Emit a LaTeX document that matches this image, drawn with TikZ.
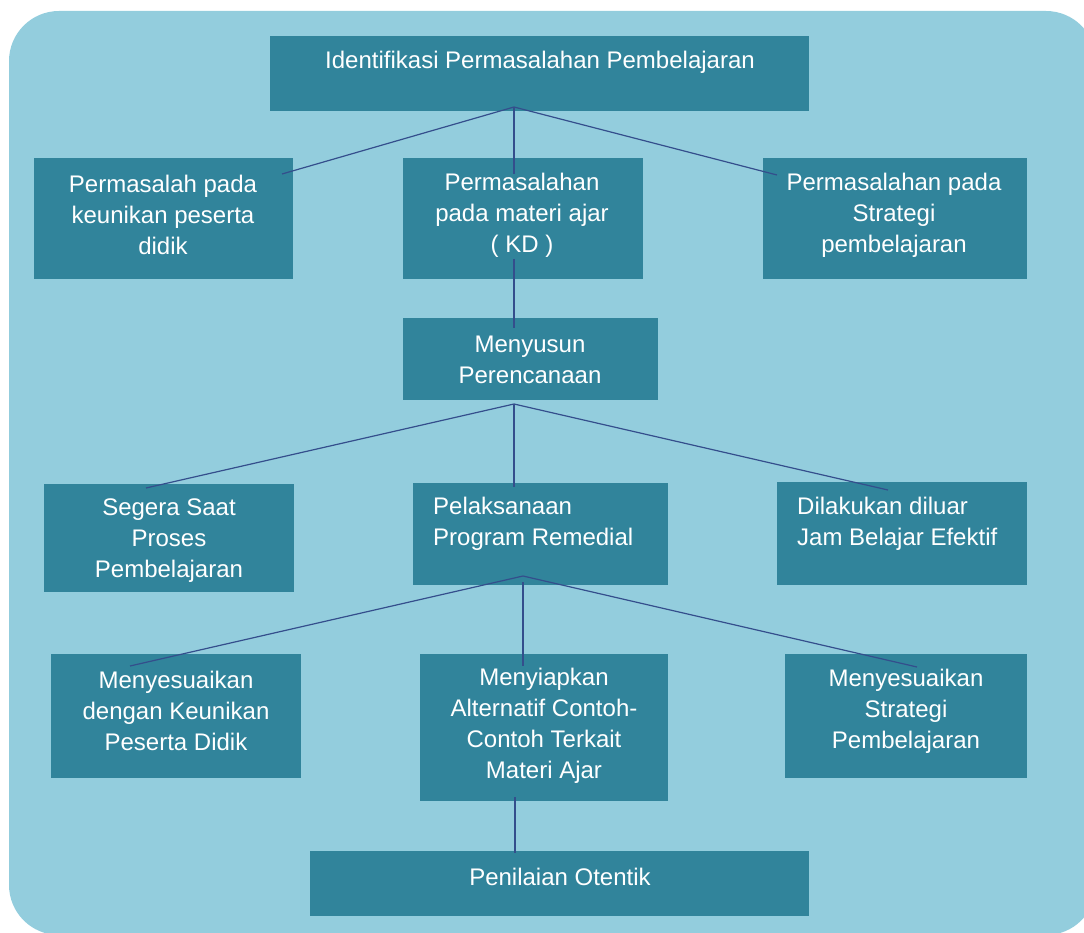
\documentclass[tikz,border=0pt]{standalone}
\usepackage{fontspec}
\setmainfont{Liberation Sans}
\usetikzlibrary{positioning}
\usetikzlibrary{calc}

\definecolor{bgblue}{RGB}{147,205,221}
\definecolor{boxteal}{RGB}{49,132,155}
\definecolor{linkblue}{RGB}{52,78,140}

\tikzset{
	box/.style={fill=boxteal, draw=none, inner sep=0pt, anchor=north west},
	txt/.style={text=white, font=\fontsize{24}{31}\selectfont, align=center, inner sep=0pt},
	link/.style={draw=linkblue, line width=1.2pt}
}

\begin{document}
\begin{tikzpicture}[x=1pt, y=-1pt]

	\useasboundingbox (0,0) rectangle (1084,933);
	\begin{scope}
		\clip (0,0) rectangle (1084,933);
		\fill[bgblue, rounded corners=50pt] (9,11) rectangle (1096,935);
	\end{scope}

	\node[box, minimum width=539pt, minimum height=75pt] (idn) at (270,36) {};
	\node[box, minimum width=259pt, minimum height=121pt] (msiswa) at (34,158) {};
	\node[box, minimum width=240pt, minimum height=121pt] (mkd) at (403,158) {};
	\node[box, minimum width=264pt, minimum height=121pt] (mstrategi) at (763,158) {};
	\node[box, minimum width=255pt, minimum height=82pt] (rencana) at (403,318) {};
	\node[box, minimum width=250pt, minimum height=108pt] (segera) at (44,484) {};
	\node[box, minimum width=255pt, minimum height=102pt] (remedial) at (413,483) {};
	\node[box, minimum width=250pt, minimum height=103pt] (diluar) at (777,482) {};
	\node[box, minimum width=250pt, minimum height=124pt] (ssiswa) at (51,654) {};
	\node[box, minimum width=248pt, minimum height=147pt] (contoh) at (420,654) {};
	\node[box, minimum width=242pt, minimum height=124pt] (sstrategi) at (785,654) {};
	\node[box, minimum width=499pt, minimum height=65pt] (nilai) at (310,851) {};

	\coordinate (idn-hub) at (514,107);
	\coordinate (msiswa-in) at (282,174);
	\coordinate (mkd-in) at (514,174);
	\coordinate (mstrategi-in) at (777,175);
	\coordinate (mkd-out) at (514,259);
	\coordinate (rencana-in) at (514,328);
	\coordinate (rencana-hub) at (514,404);
	\coordinate (segera-in) at (146,488);
	\coordinate (remedial-in) at (514,487);
	\coordinate (diluar-in) at (888,490);
	\coordinate (remedial-hub) at (523,576);
	\coordinate (remedial-out) at (523,582);
	\coordinate (ssiswa-in) at (130,666);
	\coordinate (contoh-in) at (523,666);
	\coordinate (sstrategi-in) at (917,667);
	\coordinate (contoh-out) at (515,797);
	\coordinate (nilai-in) at (515,853);

	\draw[link] (msiswa-in) -- (idn-hub) -- (mstrategi-in);
	\draw[link] (idn-hub) -- (mkd-in);
	\draw[link] (mkd-out) -- (rencana-in);
	\draw[link] (segera-in) -- (rencana-hub) -- (diluar-in);
	\draw[link] (rencana-hub) -- (remedial-in);
	\draw[link] (ssiswa-in) -- (remedial-hub) -- (sstrategi-in);
	\draw[link] (remedial-out) -- (contoh-in);
	\draw[link] (contoh-out) -- (nilai-in);

	\node[txt] (idn-txt) at (540,62) {Identifikasi Permasalahan Pembelajaran};
	\node[txt] (msiswa-txt) at (163,215) {Permasalah pada\\keunikan peserta\\didik};
	\node[txt] (mkd-txt) at (522,215) {Permasalahan\\pada materi ajar\\( KD )};
	\node[txt] (mstrategi-txt) at (894,215) {Permasalahan pada\\Strategi\\pembelajaran};
	\node[txt] (rencana-txt) at (530,360) {Menyusun\\Perencanaan};
	\node[txt] (segera-txt) at (169,541) {Segera Saat\\Proses\\Pembelajaran};
	\node[txt, align=left, anchor=west] (remedial-txt) at (433,524) {Pelaksanaan\\Program Remedial};
	\node[txt, align=left, anchor=west] (diluar-txt) at (797,524) {Dilakukan diluar\\Jam Belajar Efektif};
	\node[txt] (ssiswa-txt) at (176,711) {Menyesuaikan\\dengan Keunikan\\Peserta Didik};
	\node[txt] (contoh-txt) at (544,726) {Menyiapkan\\Alternatif Contoh-\\Contoh Terkait\\Materi Ajar};
	\node[txt] (sstrategi-txt) at (906,711) {Menyesuaikan\\Strategi\\Pembelajaran};
	\node[txt] (nilai-txt) at (560,877) {Penilaian Otentik};

\end{tikzpicture}
\end{document}
